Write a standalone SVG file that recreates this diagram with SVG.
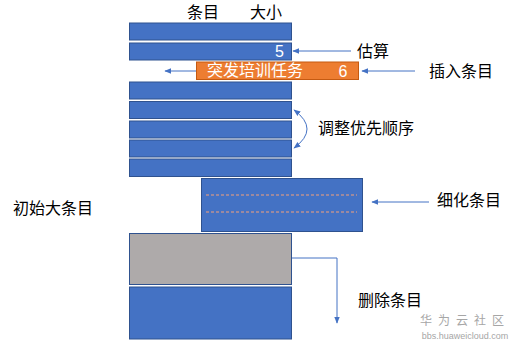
<svg xmlns="http://www.w3.org/2000/svg" width="518" height="347" viewBox="0 0 518 347">
<defs>
<style>
.bar{fill:#4472C4;stroke:#2F528F;stroke-width:1}
.t{font-family:"Noto Sans CJK SC","Liberation Sans",sans-serif;font-size:16px;fill:#000}
.w{font-family:"Liberation Sans","Noto Sans CJK SC",sans-serif;font-size:16px;fill:#fff}
.ln{fill:none;stroke:#4472C4;stroke-width:1}
</style>
<marker id="ah" viewBox="0 0 10 10" refX="9" refY="5" markerWidth="7" markerHeight="7" orient="auto-start-reverse" markerUnits="userSpaceOnUse">
<path d="M0,1 L10,5 L0,9 Z" fill="#4472C4"/>
</marker>
</defs>
<rect width="518" height="347" fill="#fff"/>
<g id="header">
<text class="t" x="203" y="18" text-anchor="middle">条目</text>
<text class="t" x="266" y="18" text-anchor="middle">大小</text>
</g>
<g id="bar1"><rect class="bar" x="129.5" y="23" width="162" height="17"/></g>
<g id="bar2"><rect class="bar" x="129.5" y="43" width="162" height="17"/><text class="w" x="284" y="56.5" text-anchor="end">5</text></g>
<g id="insert"><rect x="196.5" y="62" width="162" height="17.5" fill="#ED7D31" stroke="#C55A11"/>
<text class="w" x="207" y="76">突发培训任务</text>
<text class="w" x="343" y="77" text-anchor="middle">6</text></g>
<g id="bar3"><rect class="bar" x="129.5" y="82" width="162" height="17"/></g>
<g id="bar4"><rect class="bar" x="129.5" y="101.5" width="162" height="17"/></g>
<g id="bar5"><rect class="bar" x="129.5" y="121" width="162" height="17"/></g>
<g id="bar6"><rect class="bar" x="129.5" y="140" width="162" height="17"/></g>
<g id="bar7"><rect class="bar" x="129.5" y="159" width="162" height="17.5"/></g>
<g id="refine"><rect class="bar" x="201.5" y="178.5" width="161" height="53"/>
<line x1="206" y1="195" x2="357" y2="195" stroke="#F4A07A" stroke-width="1" stroke-dasharray="3,2"/>
<line x1="206" y1="212" x2="357" y2="212" stroke="#F4A07A" stroke-width="1" stroke-dasharray="3,2"/></g>
<g id="deleted"><rect x="129.5" y="233.5" width="162" height="51" fill="#AEAAAA" stroke="#2F528F"/></g>
<g id="bottom"><rect class="bar" x="129.5" y="287" width="162" height="52"/></g>
<g id="labels">
<text class="t" x="357" y="57">估算</text>
<text class="t" x="429" y="77">插入条目</text>
<text class="t" x="318" y="134">调整优先顺序</text>
<text class="t" x="13" y="214">初始大条目</text>
<text class="t" x="437" y="206">细化条目</text>
<text class="t" x="358" y="306">删除条目</text>
</g>
<g id="connectors">
<line class="ln" x1="351" y1="51" x2="293" y2="51" marker-end="url(#ah)"/>
<line class="ln" x1="196" y1="71" x2="165" y2="71" marker-end="url(#ah)"/>
<line class="ln" x1="415" y1="71" x2="362" y2="71" marker-end="url(#ah)"/>
<path class="ln" d="M294,110 Q320,129 294,148" marker-start="url(#ah)" marker-end="url(#ah)"/>
<line class="ln" x1="429" y1="202" x2="372" y2="202" marker-end="url(#ah)"/>
<path class="ln" d="M292,258 H337 V323" marker-end="url(#ah)"/>
</g>
<g id="watermark" fill="#a6a6a6">
<text x="465" y="325" text-anchor="middle" font-family="'Noto Sans CJK SC',sans-serif" font-size="12" letter-spacing="6">华为云社区</text>
<text x="465" y="339" text-anchor="middle" font-family="'Liberation Sans',sans-serif" font-size="9">bbs.huaweicloud.com</text>
</g>
</svg>
